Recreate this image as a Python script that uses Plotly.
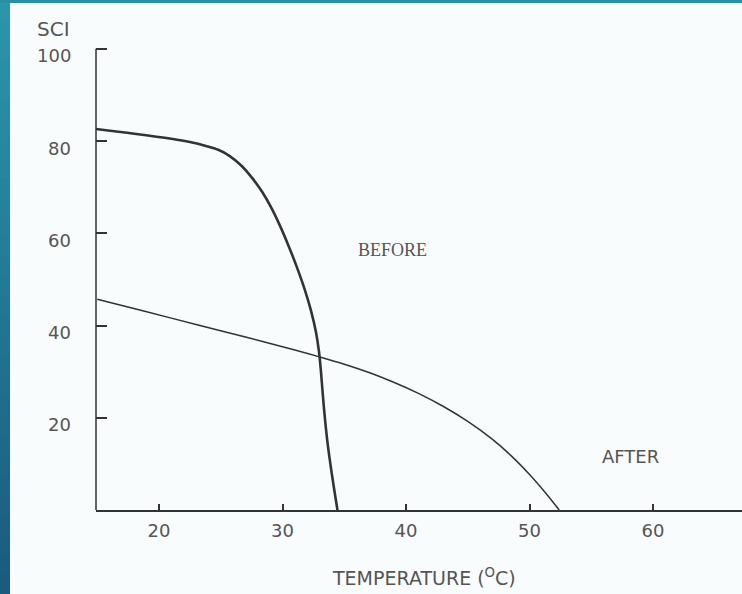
import plotly.graph_objects as go

# ---- data ----
before_x = [14.9, 18.0, 21.0, 22.5, 23.8, 24.8, 25.7, 26.7, 27.6, 28.4, 29.1, 29.8, 30.5, 31.2,
            31.8, 32.3, 32.7, 32.95, 33.1, 33.25, 33.45, 33.7, 34.0, 34.45]
before_y = [82.6, 81.6, 80.5, 79.8, 78.95, 78.1, 76.8, 74.6, 71.8, 68.8, 65.5, 61.6, 57.2, 52.4,
            47.8, 43.3, 38.7, 34.4, 30.4, 25.4, 19.4, 13.4, 7.7, 0.0]

after_x = [15.0, 19.0, 23.0, 27.0, 31.0, 33.0, 35.0, 37.0, 39.0, 41.0, 43.0, 45.0, 47.0, 48.5, 50.0, 51.3, 52.4]
after_y = [45.7, 43.0, 40.2, 37.5, 34.7, 33.2, 31.6, 29.8, 27.7, 25.3, 22.5, 19.2, 15.3, 11.8, 7.7, 3.7, 0.0]

x_ticks = [20, 30, 40, 50, 60]
x_tick_labels = ["20", "30", "40", "50", "60"]
y_ticks = [20, 40, 60, 80, 100]
y_tick_labels = ["20", "40", "60", "80", "100"]

FONT = "DejaVu Sans, Liberation Sans, sans-serif"
INK = "#333333"
TXT = "#555555"

fig = go.Figure()
fig.add_trace(go.Scatter(x=before_x, y=before_y, mode="lines",
                         line=dict(color=INK, width=2.6, shape="spline", smoothing=1.0),
                         hoverinfo="skip", showlegend=False))
fig.add_trace(go.Scatter(x=after_x, y=after_y, mode="lines",
                         line=dict(color=INK, width=1.5, shape="spline", smoothing=1.0),
                         hoverinfo="skip", showlegend=False))

X0, X1 = 14.9, 67.2
Y0, Y1 = 0, 109.5

shapes = []
# y axis line from 0 to 100
shapes.append(dict(type="line", xref="paper", yref="y", x0=0, x1=0, y0=0, y1=100,
                   line=dict(color=INK, width=1.5)))

# decorative slide frame: left gradient strip and top strip
W, H = 646.0, 505.0
def px_x(p):
    return (p - 96) / W
def px_y(p):
    return (510 - p) / H

top_c = (42, 150, 170)
bot_c = (26, 91, 126)
n = 30
for i in range(n):
    t = i / (n - 1)
    c = tuple(int(round(top_c[k] + (bot_c[k] - top_c[k]) * t)) for k in range(3))
    shapes.append(dict(type="rect", xref="paper", yref="paper",
                       x0=px_x(0), x1=px_x(10),
                       y0=px_y(594 * (i + 1) / n + 1), y1=px_y(594 * i / n),
                       fillcolor="rgb(%d,%d,%d)" % c, line=dict(width=0), layer="above"))
shapes.append(dict(type="rect", xref="paper", yref="paper",
                   x0=px_x(0), x1=px_x(742), y0=px_y(3), y1=px_y(0),
                   fillcolor="#2a8fa3", line=dict(width=0), layer="above"))

annotations = []
for v, lab in zip(y_ticks, y_tick_labels):
    annotations.append(dict(x=0, xref="paper", y=v, yref="y", text=lab, showarrow=False,
                            xanchor="right", yanchor="middle", xshift=-23, yshift=-7,
                            font=dict(family=FONT, size=18, color=TXT)))
annotations.append(dict(x=px_x(53), y=px_y(29), xref="paper", yref="paper", text="SCI",
                        showarrow=False, xanchor="center", yanchor="middle",
                        font=dict(family=FONT, size=20, color=TXT)))
annotations.append(dict(x=38.9, y=56.4, xref="x", yref="y", text="BEFORE",
                        showarrow=False, xanchor="center", yanchor="middle",
                        font=dict(family="Liberation Serif, DejaVu Serif, serif", size=18, color=TXT)))
annotations.append(dict(x=58.2, y=11.5, xref="x", yref="y", text="AFTER",
                        showarrow=False, xanchor="center", yanchor="middle",
                        font=dict(family=FONT, size=18, color=TXT)))
annotations.append(dict(x=px_x(424), y=px_y(577), xref="paper", yref="paper",
                        text="TEMPERATURE (<sup>O</sup>C)", showarrow=False,
                        xanchor="center", yanchor="middle",
                        font=dict(family=FONT, size=19, color=TXT)))

fig.update_layout(
    width=742, height=594,
    margin=dict(l=96, r=0, t=5, b=84),
    paper_bgcolor="#f9fcfd", plot_bgcolor="#f9fcfd",
    shapes=shapes, annotations=annotations,
    xaxis=dict(range=[X0, X1], showgrid=False, zeroline=False, showline=True,
               linecolor=INK, linewidth=1.5, ticks="inside", ticklen=6, tickwidth=1.5,
               tickcolor=INK, tickvals=x_ticks, ticktext=x_tick_labels,
               tickfont=dict(family=FONT, size=18, color=TXT), ticklabelstandoff=4),
    yaxis=dict(range=[Y0, Y1], showgrid=False, zeroline=False, showline=False,
               ticks="inside", ticklen=11, tickwidth=1.5, tickcolor=INK,
               tickvals=y_ticks, showticklabels=False),
)

fig.write_html("out.html", config={"displayModeBar": False},
               post_script="document.body.style.margin='0';document.body.style.overflow='hidden';")
